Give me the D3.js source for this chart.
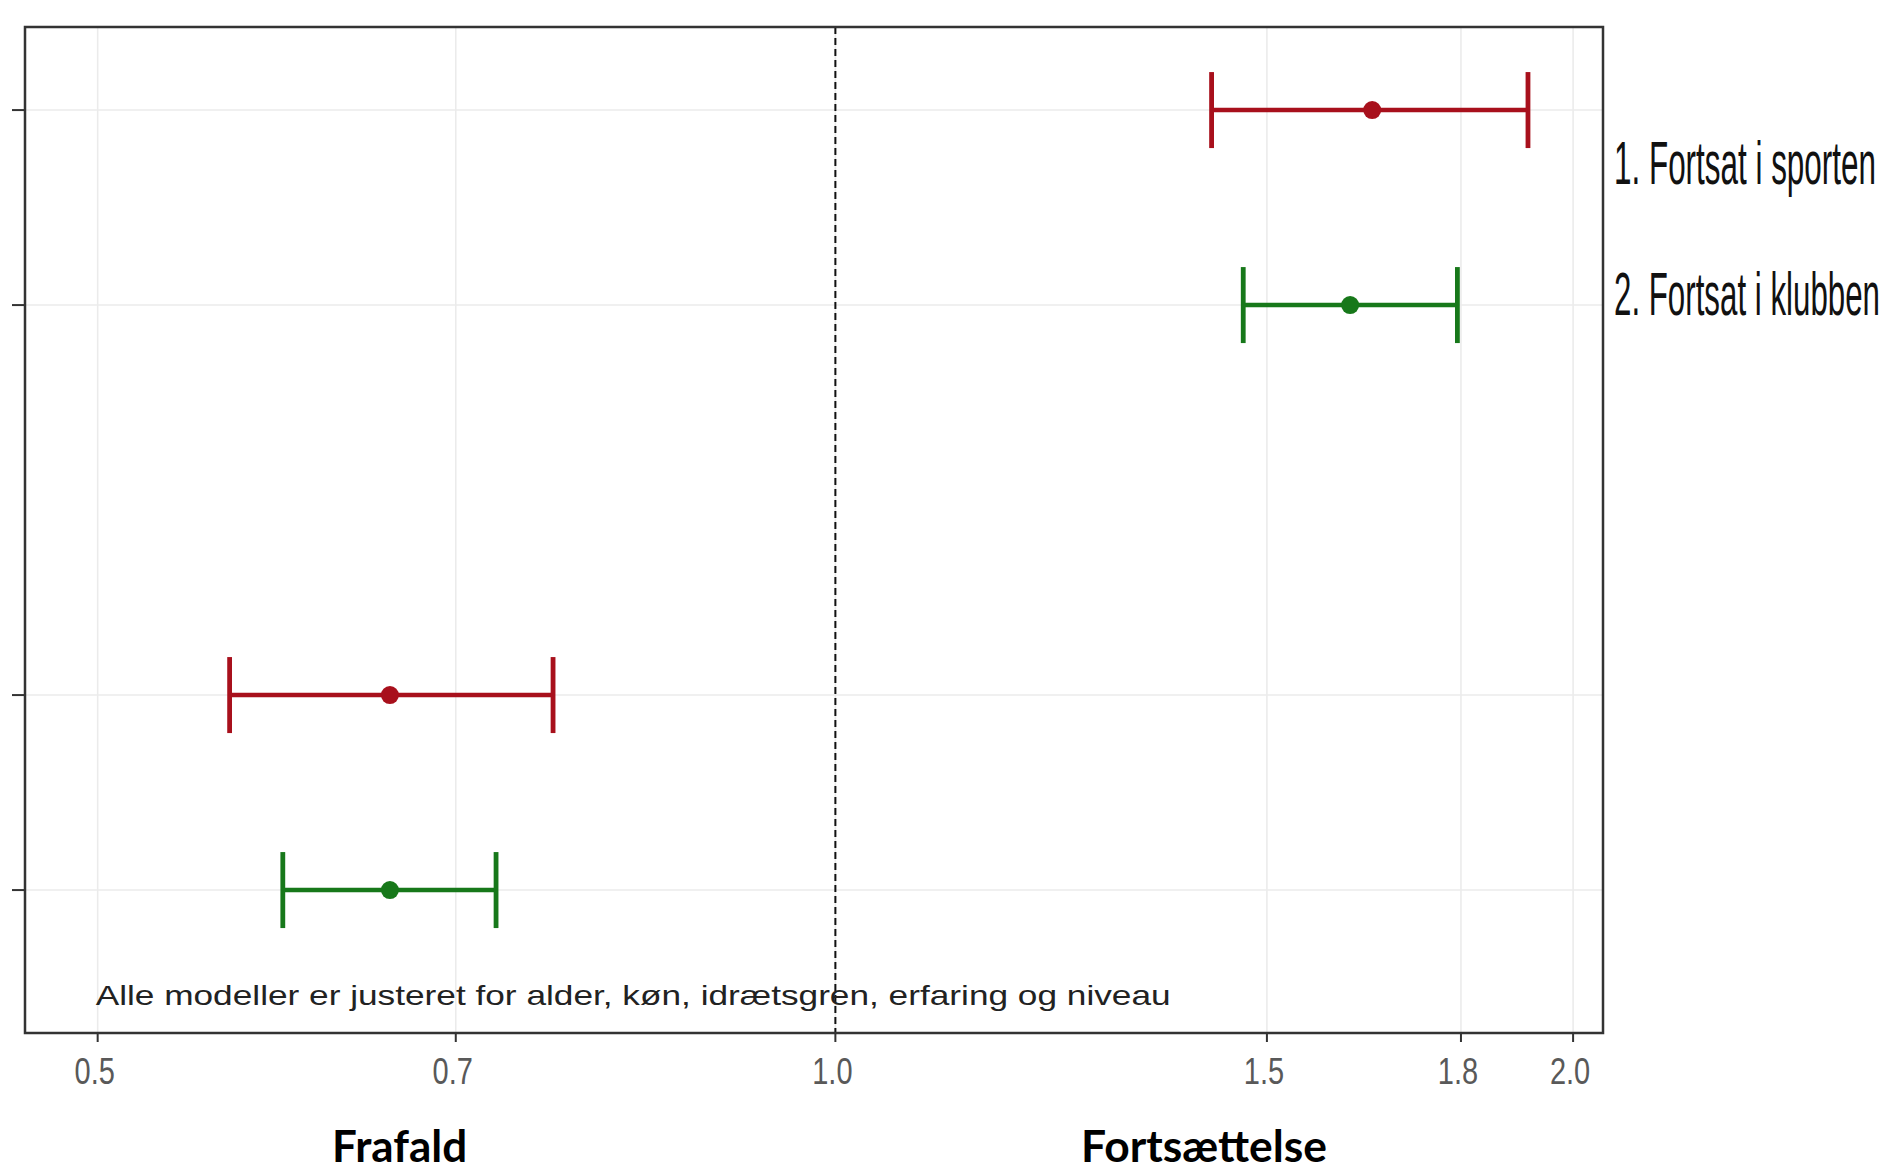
<!DOCTYPE html>
<html>
<head>
<meta charset="utf-8">
<script src="https://cdn.jsdelivr.net/npm/d3@7"></script>
<style>
  html, body { margin: 0; padding: 0; background: #fff; }
  svg { display: block; }
</style>
</head>
<body>
<svg id="chart" width="1892" height="1171"></svg>
<script>
// ---- data ----
const outcomes = ["1. Fortsat i sporten", "2. Fortsat i klubben", "1. Fortsat i sporten", "2. Fortsat i klubben"];
const groups = ["Fortsættelse", "Fortsættelse", "Frafald", "Frafald"];
const rowPos = [5, 4, 2, 1];
const estimate = [1.656, 1.622, 0.658, 0.658];
const lower = [1.424, 1.467, 0.566, 0.595];
const upper = [1.917, 1.794, 0.767, 0.727];
const xTicks = [0.5, 0.7, 1.0, 1.5, 1.8, 2.0];
const xTickLabels = ["0.5", "0.7", "1.0", "1.5", "1.8", "2.0"];
const legendLabels = ["1. Fortsat i sporten", "2. Fortsat i klubben"];
const groupLabels = ["Frafald", "Fortsættelse"];
const groupLabelPos = [0.664, 1.414];
const note = "Alle modeller er justeret for alder, køn, idrætsgren, erfaring og niveau";

const colorOf = {"1. Fortsat i sporten": "#a8101c", "2. Fortsat i klubben": "#17781a"};

// ---- layout ----
const L = 25, R = 1603, T = 27, B = 1033;
const svg = d3.select("#chart");

const x = d3.scaleLog().domain([0.467, 2.057]).range([L, R]);
const y = d3.scaleLinear().domain([0.267, 5.426]).range([B, T]);

// grid
const grid = svg.append("g");
grid.selectAll("line.vx").data(xTicks).join("line")
  .attr("x1", d => x(d)).attr("x2", d => x(d))
  .attr("y1", T).attr("y2", B)
  .attr("stroke", "#ebebeb").attr("stroke-width", 1.6);
grid.selectAll("line.hy").data(rowPos).join("line")
  .attr("x1", L).attr("x2", R)
  .attr("y1", d => y(d)).attr("y2", d => y(d))
  .attr("stroke", "#ebebeb").attr("stroke-width", 1.6);

// reference line at 1
svg.append("line")
  .attr("x1", x(1)).attr("x2", x(1))
  .attr("y1", T).attr("y2", B)
  .attr("stroke", "#111").attr("stroke-width", 2)
  .attr("stroke-dasharray", "7 4");

// annotation
svg.append("text")
  .attr("x", x(0.5) - 2).attr("y", y(0.41))
  .attr("font-family", "'Liberation Sans', Arial, sans-serif")
  .attr("font-size", 28).attr("fill", "#222")
  .attr("textLength", 1075).attr("lengthAdjust", "spacingAndGlyphs")
  .text(note);

// error bars
const rows = outcomes.map((o, i) => ({o, g: groups[i], pos: rowPos[i], est: estimate[i], lo: lower[i], hi: upper[i]}));
const marks = svg.append("g");
rows.forEach(r => {
  const c = colorOf[r.o];
  const yy = y(r.pos);
  marks.append("line").attr("x1", x(r.lo)).attr("x2", x(r.hi)).attr("y1", yy).attr("y2", yy)
    .attr("stroke", c).attr("stroke-width", 4.5);
  [r.lo, r.hi].forEach(v => {
    marks.append("line").attr("x1", x(v)).attr("x2", x(v))
      .attr("y1", yy - 38).attr("y2", yy + 38)
      .attr("stroke", c).attr("stroke-width", 4.8);
  });
  marks.append("circle").attr("cx", x(r.est)).attr("cy", yy).attr("r", 9).attr("fill", c);
});

// panel border
svg.append("rect").attr("x", L).attr("y", T).attr("width", R - L).attr("height", B - T)
  .attr("fill", "none").attr("stroke", "#333").attr("stroke-width", 2.5);

// x axis ticks & labels
const xa = svg.append("g");
xa.selectAll("line").data(xTicks).join("line")
  .attr("x1", d => x(d)).attr("x2", d => x(d))
  .attr("y1", B).attr("y2", B + 9)
  .attr("stroke", "#333").attr("stroke-width", 2);
xa.selectAll("text").data(xTicks).join("text")
  .attr("transform", d => `translate(${x(d) - 3},1084) scale(1,1.3)`)
  .attr("text-anchor", "middle")
  .attr("font-family", "'Liberation Sans', Arial, sans-serif")
  .attr("font-size", 29).attr("fill", "#595959")
  .text((d, i) => xTickLabels[i]);

// y axis ticks
svg.append("g").selectAll("line").data(rowPos).join("line")
  .attr("x1", L - 13).attr("x2", L)
  .attr("y1", d => y(d)).attr("y2", d => y(d))
  .attr("stroke", "#333").attr("stroke-width", 2);

// legend labels (horizontally condensed via transform)
const legY = [184, 315];
const legW = [262, 266];
svg.append("g").selectAll("text").data(legendLabels).join("text")
  .attr("font-family", "'Liberation Sans', Arial, sans-serif")
  .attr("font-size", 62).attr("fill", "#111")
  .text(d => d)
  .each(function(d, i) {
    const w = this.getComputedTextLength();
    const sx = legW[i] / w;
    d3.select(this).attr("transform", `translate(1614,${legY[i]}) scale(${sx},1)`);
  });

// group labels under the axis
const gW = [135, 246];
svg.append("g").selectAll("text").data(groupLabels).join("text")
  .attr("x", (d, i) => x(groupLabelPos[i])).attr("y", 1162)
  .attr("text-anchor", "middle")
  .attr("font-family", "Lato, 'Open Sans', sans-serif")
  .attr("font-weight", "bold")
  .attr("font-size", 44).attr("fill", "#000")
  .attr("textLength", (d, i) => gW[i]).attr("lengthAdjust", "spacingAndGlyphs")
  .text(d => d);
</script>
</body>
</html>
